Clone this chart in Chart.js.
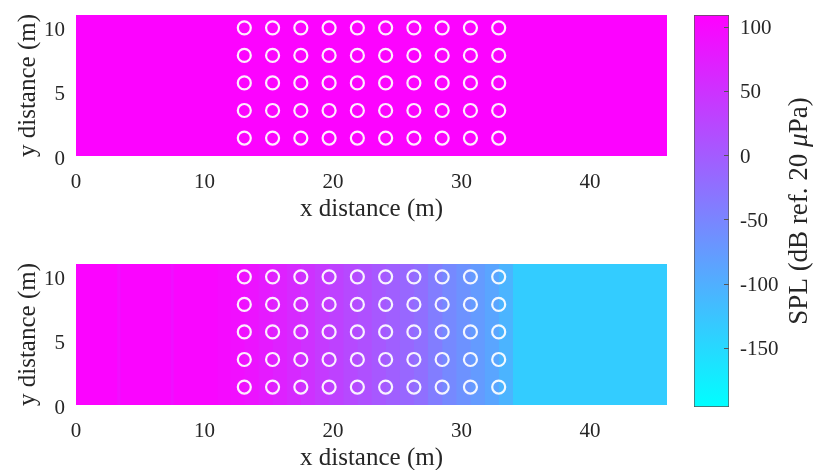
<!DOCTYPE html>
<html>
<head>
<meta charset="utf-8">
<script src="https://cdn.jsdelivr.net/npm/chart.js@4.4.0/dist/chart.umd.min.js"></script>
<style>
  body { margin: 0; background: #fff; }
  #wrap { position: relative; width: 814px; height: 470px; overflow: hidden; }
  canvas { position: absolute; }
</style>
</head>
<body>
<div id="wrap">
  <canvas id="topPlot" width="680" height="228" style="left:0;top:0"></canvas>
  <canvas id="bottomPlot" width="680" height="228" style="left:0;top:249px"></canvas>
  <canvas id="colorBar" width="134" height="470" style="left:680px;top:0"></canvas>
</div>
<script>
const xTicks = [0, 10, 20, 30, 40];
const yTicks = [0, 5, 10];
const cbTicks = [100, 50, 0, -50, -100, -150];
const cbMin = -196, cbMax = 109;
const xMax = 46, yMax = 11;

// source positions (m)
const circX = [13.1, 15.3, 17.5, 19.7, 21.9, 24.1, 26.3, 28.5, 30.7, 32.9];
const circY = [1.4, 3.55, 5.7, 7.85, 10.0];

// SPL strips: left edge in m, one dB value per strip (each strip runs on to the next edge)
const topEdges = [0];
const topSpl = [106];
const bottomEdges = [0, 3.2, 3.45, 7.35, 7.6, 11.0, 12.0, 13.1, 14.2, 15.3, 16.4, 17.5, 18.6,
  19.7, 20.8, 21.9, 23.0, 24.1, 25.2, 26.3, 27.4, 28.5, 29.6, 30.7, 31.8, 32.9, 34.0];
const bottomSpl = [104, 92, 103, 90, 102, 97, 92, 86, 78, 70, 60, 50, 40, 31, 22, 13, 4, -5,
  -14, -24, -40, -55, -66, -76, -88, -106, -135];

const serif = 'Liberation Serif';
const txt = '#262626';

function cool(v) {
  let t = (v - cbMin) / (cbMax - cbMin);
  t = Math.max(0, Math.min(1, t));
  return `rgb(${Math.round(255 * t)},${Math.round(255 * (1 - t))},255)`;
}

// each strip is filled from its left edge to the end of the axis, later strips
// are painted over earlier ones so no seams show between them
function stripDatasets(edges, spl) {
  return spl.map((v, i) => ({
    type: 'line',
    data: [{x: edges[i], y: yMax}, {x: xMax, y: yMax}],
    fill: 'origin',
    backgroundColor: cool(v),
    borderColor: 'rgba(0,0,0,0)',
    borderWidth: 0,
    pointRadius: 0,
    order: spl.length - i + 1
  }));
}

function noPad(s) {
  s.paddingTop = 0; s.paddingBottom = 0; s.paddingLeft = 0; s.paddingRight = 0;
}

function plot(id, edges, spl) {
  const circles = {
    type: 'scatter',
    data: circY.flatMap(y => circX.map(x => ({x, y}))),
    pointRadius: 6.5,
    pointBorderWidth: 2.2,
    borderColor: 'rgba(255,255,255,0.92)',
    backgroundColor: 'rgba(0,0,0,0)',
    order: 0
  };
  return new Chart(document.getElementById(id), {
    type: 'scatter',
    data: { datasets: [circles, ...stripDatasets(edges, spl)] },
    options: {
      responsive: false,
      animation: false,
      events: [],
      layout: { padding: { left: 0, top: 15, right: 13, bottom: 0 } },
      scales: {
        x: {
          type: 'linear', min: 0, max: xMax, offset: false,
          afterBuildTicks: s => { s.ticks = xTicks.map(v => ({value: v})); },
          afterFit: s => { s.height = 72; noPad(s); },
          grid: { display: false }, border: { display: false },
          ticks: { font: { family: serif, size: 21 }, color: txt, padding: 6, maxRotation: 0 },
          title: { display: true, text: 'x distance (m)', color: txt,
                   font: { family: serif, size: 25 }, padding: { top: 0, bottom: 4 } }
        },
        y: {
          type: 'linear', min: 0, max: yMax, offset: false,
          afterBuildTicks: s => { s.ticks = yTicks.map(v => ({value: v})); },
          afterFit: s => { s.width = 76; noPad(s); },
          grid: { display: false }, border: { display: false },
          ticks: { font: { family: serif, size: 21 }, color: txt, padding: 3, labelOffset: 3 },
          title: { display: true, text: 'y distance (m)', color: txt,
                   font: { family: serif, size: 25 }, padding: { top: 13, bottom: 0 } }
        }
      },
      plugins: { legend: { display: false }, tooltip: { enabled: false } }
    }
  });
}

plot('topPlot', topEdges, topSpl);
plot('bottomPlot', bottomEdges, bottomSpl);

const cbDecor = {
  id: 'cbDecor',
  afterDraw(chart) {
    const {ctx, chartArea: a, scales: {y}} = chart;
    ctx.save();
    ctx.strokeStyle = '#555';
    ctx.lineWidth = 1;
    cbTicks.forEach(v => {
      const py = Math.round(y.getPixelForValue(v)) + 0.5;
      ctx.beginPath();
      ctx.moveTo(a.right - 5, py);
      ctx.lineTo(a.right, py);
      ctx.stroke();
    });
    // axis label, reading bottom to top
    const parts = [['SPL (dB ref. 20 ', ''], ['\u03bc', 'italic '], ['Pa)', '']];
    ctx.fillStyle = txt;
    ctx.textBaseline = 'middle';
    let w = 0;
    parts.forEach(p => { ctx.font = p[1] + '27px "' + serif + '"'; w += ctx.measureText(p[0]).width; });
    ctx.translate(120, (a.top + a.bottom) / 2);
    ctx.rotate(-Math.PI / 2);
    let x = -w / 2;
    parts.forEach(p => {
      ctx.font = p[1] + '27px "' + serif + '"';
      ctx.fillText(p[0], x, 0);
      x += ctx.measureText(p[0]).width;
    });
    ctx.restore();
  }
};

new Chart(document.getElementById('colorBar'), {
  type: 'bar',
  data: {
    labels: [''],
    datasets: [{
      data: [[cbMin, cbMax]],
      backgroundColor: c => {
        const chart = c.chart;
        if (!chart.chartArea) return cool(cbMax);
        const ys = chart.scales.y;
        const g = chart.ctx.createLinearGradient(0, ys.getPixelForValue(cbMin), 0, ys.getPixelForValue(cbMax));
        g.addColorStop(0, cool(cbMin));
        g.addColorStop(1, cool(cbMax));
        return g;
      },
      borderColor: '#555',
      borderWidth: 1,
      borderSkipped: false,
      barPercentage: 1,
      categoryPercentage: 1
    }]
  },
  options: {
    responsive: false,
    animation: false,
    events: [],
    layout: { padding: { left: 14, top: 15, bottom: 63, right: 0 } },
    scales: {
      x: { display: false },
      y: {
        position: 'right', min: cbMin, max: cbMax,
        afterBuildTicks: s => { s.ticks = cbTicks.map(v => ({value: v})); },
        afterFit: s => { s.width = 85; noPad(s); },
        grid: { display: false }, border: { display: false },
        ticks: { font: { family: serif, size: 21 }, color: txt, padding: 3, labelOffset: 2 }
      }
    },
    plugins: { legend: { display: false }, tooltip: { enabled: false } }
  },
  plugins: [cbDecor]
});
</script>
</body>
</html>
